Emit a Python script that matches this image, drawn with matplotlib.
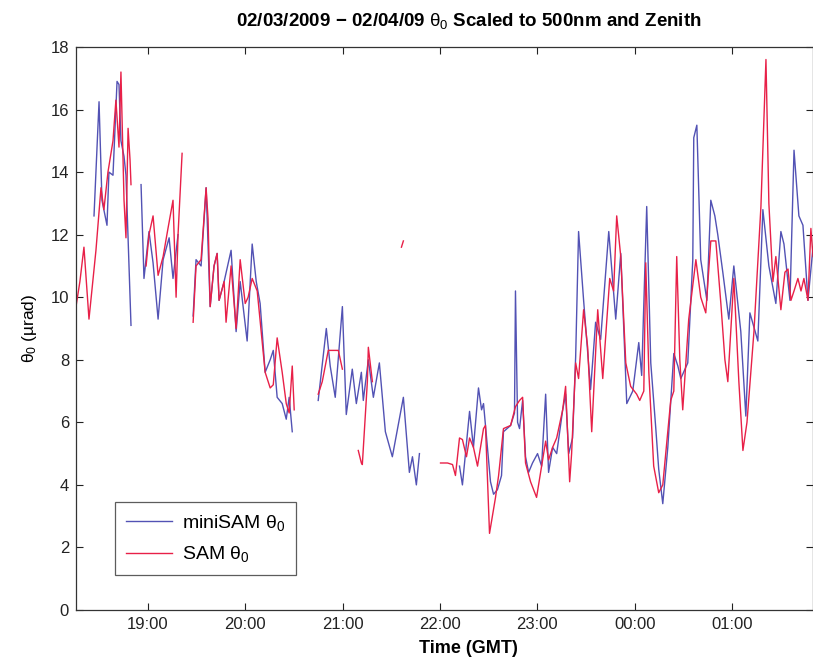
import numpy as np
import matplotlib
matplotlib.use("Agg")
import matplotlib.pyplot as plt

plt.rcParams['font.family'] = ['Liberation Sans', 'DejaVu Sans']
plt.rcParams['mathtext.fontset'] = 'custom'
plt.rcParams['mathtext.rm'] = 'Liberation Sans'
plt.rcParams['mathtext.it'] = 'Liberation Sans'

nan = np.nan
# time in minutes after 18:00 GMT (02/03/2009); NaN = data gap
mini_t = [26.7, 29.8, 31.6, 34.7, 35.9, 38.4, 40.9, 42.1, 43.3, 45.2, 46.4, 49.5, nan,
          55.7, 57.5, 60.6, 63.1, 66.2, 69.3, 73.0, 75.4, 78.5, nan,
          87.8, 89.6, 92.7, 95.8, 98.3, 100.7, 102.6, 103.8, 106.9, 111.2, 114.3, 116.8,
          121.1, 124.2, 126.7, 129.1, 132.2, 135.3, 137.2, 139.6, 142.7, 145.2, 147.0, 148.9, nan,
          164.9, 169.9, 172.3, 175.4, 179.8, 182.2, 185.9, 188.4, 191.5, 192.7, 195.8, 198.9,
          202.6, 206.3, 210.6, 217.4, 221.1, 223.0, 225.4, 227.3, nan,
          252.0, 253.8, 258.2, 260.6, 263.7, 265.6, 266.8, 271.1, 273.0, 275.4, 277.9, 279.1,
          283.5, 285.9, 286.5, 287.8, 289.0, 290.9, 292.7, 294.6, 297.0, 300.1, 302.6, 305.1,
          306.9, 309.4, 311.9, 315.6, 317.4, 319.3, 321.7, 323.6, 325.4, 328.5, 332.8, 335.9,
          339.0, 344.0, 348.3, 351.4, 355.1, 358.8, 362.5, 364.3, 367.4, 369.9, 373.0, 374.8,
          377.3, 380.4, 384.1, 386.6, 388.4, 392.7, 395.8, 396.4, 398.3, 400.7, 404.5, 406.9,
          409.4, 411.2, 414.3, 418.0, 421.1, 425.4, 428.5, 431.0, 435.9, 439.0, 442.7, 447.0,
          450.1, 452.0, 455.7, 458.2, 461.2, 463.7, 466.8, 469.9]
mini_v = [12.6, 16.25, 13.1, 12.3, 14.0, 13.9, 16.9, 16.8, 15.0, 14.5, 13.9, 9.1, nan,
          13.6, 10.6, 12.1, 11.1, 9.3, 11.2, 11.9, 10.6, 12.0, nan,
          9.4, 11.2, 11.0, 13.5, 9.7, 11.0, 11.4, 9.9, 10.5, 11.5, 8.9, 10.5,
          8.6, 11.7, 10.5, 9.8, 7.6, 8.0, 8.3, 6.8, 6.6, 6.1, 6.8, 5.7, nan,
          6.7, 9.0, 7.8, 6.8, 9.7, 6.25, 7.7, 6.6, 7.6, 6.7, 8.0, 6.8,
          7.9, 5.7, 4.9, 6.8, 4.4, 4.9, 4.0, 5.0, nan,
          4.6, 4.0, 6.35, 5.2, 7.1, 6.4, 6.6, 4.1, 3.7, 3.85, 4.3, 5.7,
          5.9, 6.3, 10.2, 6.0, 5.8, 6.7, 4.9, 4.4, 4.7, 5.0, 4.6, 6.9,
          4.4, 5.2, 5.0, 6.4, 6.9, 5.0, 5.5, 8.1, 12.1, 9.9, 7.05, 9.2,
          8.65, 12.1, 9.3, 11.4, 6.6, 7.0, 8.55, 7.5, 12.9, 7.9, 5.8, 4.5,
          3.4, 5.2, 8.2, 7.8, 7.4, 7.9, 11.2, 15.1, 15.5, 11.2, 9.9, 13.1,
          12.6, 12.0, 10.8, 9.3, 11.0, 8.9, 6.2, 9.5, 8.6, 12.8, 11.0, 9.8,
          12.1, 11.7, 9.9, 14.7, 12.6, 12.3, 9.9, 11.6]

sam_t = [15.6, 18.0, 20.5, 23.6, 27.9, 31.0, 32.8, 35.3, 38.4, 40.2, 42.1, 43.3, 45.2, 46.4,
         47.7, 48.9, 49.5, nan,
         58.8, 60.6, 63.1, 66.2, 69.3, 72.3, 75.4, 77.3, 78.5, 81.0, nan,
         87.8, 89.6, 92.7, 95.8, 97.0, 98.3, 100.7, 102.6, 103.8, 106.9, 108.1, 111.2, 114.3,
         116.8, 119.9, 121.7, 124.2, 127.3, 132.2, 135.3, 137.2, 139.6, 142.7, 145.2, 147.0,
         148.9, 150.1, nan,
         164.9, 167.4, 171.1, 177.3, 179.8, nan,
         189.6, 191.5, 192.1, 195.2, 195.8, 198.3, nan,
         216.2, 217.4, nan,
         240.3, 244.6, 247.7, 249.5, 252.0, 253.8, 256.3, 258.2, 260.6, 263.1, 266.8, 268.0,
         270.5, 274.2, 276.1, 279.1, 283.5, 286.5, 289.0, 290.9, 292.7, 295.8, 299.5, 302.6,
         305.1, 306.9, 309.4, 311.9, 315.6, 317.4, 319.9, 321.1, 323.6, 325.4, 328.5, 331.0,
         333.5, 337.2, 340.3, 344.6, 347.0, 348.9, 351.4, 354.5, 357.5, 361.2, 363.1, 365.6,
         366.8, 368.7, 371.7, 374.8, 377.3, 379.1, 382.2, 384.1, 385.9, 387.8, 389.6, 393.3,
         397.7, 400.7, 403.8, 406.9, 410.0, 413.1, 415.6, 417.4, 421.1, 424.2, 426.7, 429.2,
         433.5, 437.8, 440.9, 442.7, 445.2, 447.0, 450.1, 452.6, 454.5, 456.3, 458.2, 460.6,
         462.5, 464.3, 466.8, 468.6, 469.9]
sam_v = [9.7, 10.5, 11.6, 9.3, 11.5, 13.5, 12.8, 14.0, 15.0, 16.3, 14.8, 17.2, 13.1, 11.9,
         15.4, 14.4, 13.6, nan,
         11.0, 12.0, 12.6, 10.7, 11.3, 12.2, 13.1, 10.0, 12.0, 14.6, nan,
         9.2, 11.0, 11.2, 13.5, 12.5, 9.7, 11.0, 11.4, 9.9, 10.5, 9.2, 11.0, 9.0,
         11.2, 9.8, 10.0, 10.6, 10.2, 7.6, 7.1, 7.2, 8.7, 7.6, 6.6, 6.3,
         7.8, 6.4, nan,
         6.9, 7.3, 8.3, 8.3, 7.7, nan,
         5.1, 4.7, 4.65, 7.3, 8.4, 7.3, nan,
         11.6, 11.8, nan,
         4.7, 4.7, 4.65, 4.3, 5.5, 5.45, 4.9, 5.5, 5.2, 4.6, 5.8, 5.9,
         2.45, 3.6, 4.3, 5.8, 5.9, 6.5, 6.7, 6.8, 4.7, 4.1, 3.6, 4.6,
         5.4, 4.8, 5.2, 5.5, 6.4, 7.15, 4.1, 5.0, 7.9, 7.4, 9.6, 8.4,
         5.7, 9.6, 7.4, 10.6, 10.2, 12.6, 11.3, 7.9, 7.15, 6.9, 6.7, 7.0,
         11.1, 7.6, 4.6, 3.75, 4.0, 5.0, 6.7, 7.0, 11.3, 8.0, 6.4, 9.3,
         11.2, 10.0, 9.5, 11.8, 11.8, 9.8, 8.0, 7.3, 10.6, 7.3, 5.1, 6.0,
         8.9, 12.9, 17.6, 13.0, 10.5, 11.3, 9.6, 10.8, 10.9, 9.9, 10.2, 10.6,
         10.2, 10.6, 9.9, 12.2, 11.3]

tick_minutes = [60, 120, 180, 240, 300, 360, 420]
tick_labels = ['19:00', '20:00', '21:00', '22:00', '23:00', '00:00', '01:00']
y_ticks = [0, 2, 4, 6, 8, 10, 12, 14, 16, 18]

W, H = 813, 659
fig = plt.figure(figsize=(W / 100, H / 100), dpi=100)
ax = fig.add_axes([76 / W, (H - 610) / H, 737 / W, 563 / H])

blue = '#5252b4'
red = '#e82048'
ax.plot(mini_t, mini_v, color=blue, lw=1.0, label=r'miniSAM $\theta_0$')
ax.plot(sam_t, sam_v, color=red, lw=1.0, label=r'SAM $\theta_0$')

ax.set_xlim(15.6, 469.9)
ax.set_ylim(0, 18)
ax.set_xticks(tick_minutes)
ax.set_xticklabels(tick_labels)
ax.set_yticks(y_ticks)
ax.tick_params(direction='in', top=True, right=True, length=5, width=0.8,
               labelsize=12, colors='#222222', pad=5)
for s in ax.spines.values():
    s.set_linewidth(0.9)
    s.set_color('#333333')

ax.set_title(r'02/03/2009 − 02/04/09 $\theta_0$ Scaled to 500nm and Zenith',
             fontsize=13.5, fontweight='bold', x=0.533, pad=15)
ax.set_xlabel('Time (GMT)', fontsize=13, fontweight='bold', x=0.533, labelpad=6)
ax.set_ylabel(r'$\theta_0$ (µrad)', fontsize=12.5, labelpad=8)

leg = ax.legend(loc='lower left', bbox_to_anchor=(0.053, 0.062), borderaxespad=0,
                fontsize=14, frameon=True, fancybox=False, handlelength=2.4,
                borderpad=0.55, labelspacing=0.6, handletextpad=0.5)
leg.get_frame().set_edgecolor('#333333')
leg.get_frame().set_linewidth(0.9)

fig.savefig('out.png', dpi=100)
